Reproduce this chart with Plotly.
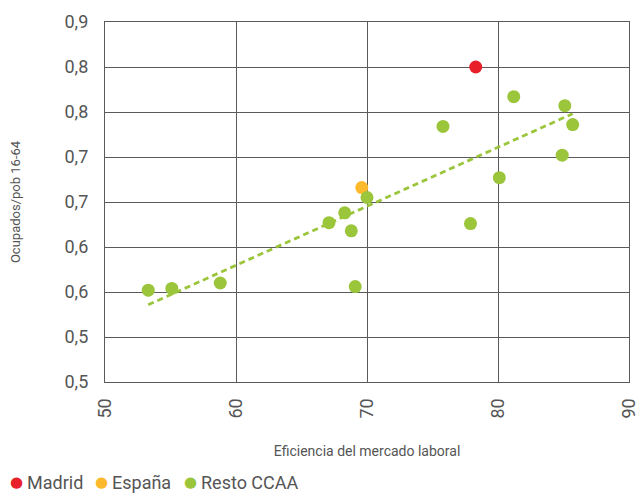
import numpy as np
import plotly.graph_objects as go

# Eficiencia del mercado laboral vs Ocupados/pob 16-64
madrid_x = [78.3]
madrid_y = [0.850]
espana_x = [69.6]
espana_y = [0.716]
resto_x = [81.2, 85.1, 85.7, 75.8, 84.9, 80.1, 70.0, 68.3, 67.1, 68.8,
           77.9, 69.1, 53.3, 55.1, 58.8]
resto_y = [0.817, 0.807, 0.786, 0.784, 0.752, 0.727, 0.705, 0.688, 0.677, 0.668,
           0.676, 0.606, 0.602, 0.604, 0.610]

y_ticks = [0.50, 0.55, 0.60, 0.65, 0.70, 0.75, 0.80, 0.85, 0.90]
y_labels = ['0,5', '0,5', '0,6', '0,6', '0,7', '0,7', '0,8', '0,8', '0,9']
x_ticks = [50, 60, 70, 80, 90]

red = '#E8202A'
yellow = '#FDB92C'
green = '#9BC53A'
grey_text = '#555555'
grid = '#5a5a5a'

# linear trend over all the points, like the spreadsheet trendline
all_x = madrid_x + espana_x + resto_x
all_y = madrid_y + espana_y + resto_y
slope, icpt = np.polyfit(all_x, all_y, 1)
tx = [min(all_x), max(all_x)]
ty = [slope * v + icpt for v in tx]

fig = go.Figure()
fig.add_trace(go.Scatter(x=tx, y=ty, mode='lines', showlegend=False,
                         line=dict(color=green, width=2.8, dash='6px,4px'),
                         hoverinfo='skip'))
fig.add_trace(go.Scatter(x=madrid_x, y=madrid_y, mode='markers', name='Madrid',
                         marker=dict(color=red, size=13)))
fig.add_trace(go.Scatter(x=espana_x, y=espana_y, mode='markers', name='España',
                         marker=dict(color=yellow, size=13)))
fig.add_trace(go.Scatter(x=resto_x, y=resto_y, mode='markers', name='Resto CCAA',
                         marker=dict(color=green, size=13)))

fig.update_layout(
    width=638, height=493,
    margin=dict(l=105, r=9, t=22, b=111),
    paper_bgcolor='white', plot_bgcolor='white',
    font=dict(family='Roboto', color=grey_text, size=16),
    showlegend=False,
)

# legend drawn as text, dot glyph followed by the label, packed tightly
legend_items = [('Madrid', red, 16), ('España', yellow, 101), ('Resto CCAA', green, 190)]
for name, col, px in legend_items:
    fig.add_annotation(xref='paper', yref='paper', x=(px - 105) / 524, y=(382 - 482) / 360,
                       text='●', showarrow=False, font=dict(color=col, size=15,
                       family='DejaVu Sans'), xanchor='center', yanchor='middle')
    fig.add_annotation(xref='paper', yref='paper', x=(px + 9 - 105) / 524, y=(382 - 483) / 360,
                       text=name, showarrow=False, font=dict(size=18),
                       xanchor='left', yanchor='middle')

fig.update_xaxes(
    range=[50, 90], tickvals=x_ticks, tickangle=-90, automargin=False,
    tickfont=dict(size=18), ticklabeloverflow='allow', ticklabelstandoff=8,
    showgrid=True, gridcolor=grid, gridwidth=1.3,
    showline=True, linecolor=grid, linewidth=1.3, mirror=True,
    zeroline=False, ticks='',
    title=dict(text='Eficiencia del mercado laboral', font=dict(size=14), standoff=28),
)
fig.update_yaxes(
    range=[0.5, 0.9], tickvals=y_ticks, ticktext=y_labels, automargin=False,
    tickfont=dict(size=18),
    showgrid=True, gridcolor=grid, gridwidth=1.3,
    showline=True, linecolor=grid, linewidth=1.3, mirror=True,
    zeroline=False, ticks='', ticklabelstandoff=12,
    title=dict(text='Ocupados/pob 16-64', font=dict(size=13), standoff=40),
)

# the page's default 8px body margin would push the figure off the window
fig.write_html("out.html", config={'displayModeBar': False},
               post_script="document.body.style.margin='0';")
